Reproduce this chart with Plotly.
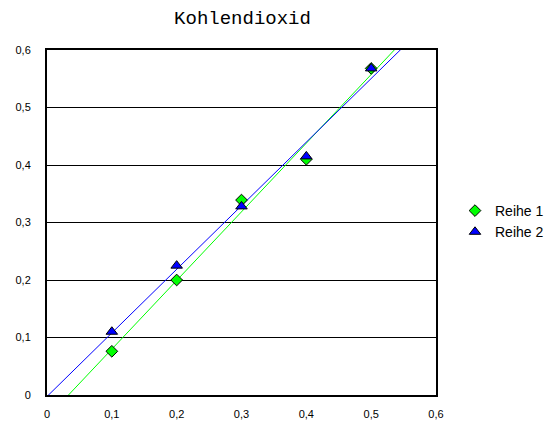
import numpy as np
import plotly.graph_objects as go

x_vals = [0.1, 0.2, 0.3, 0.4, 0.5]
reihe1 = [0.076, 0.200, 0.339, 0.410, 0.568]
reihe2 = [0.110, 0.225, 0.328, 0.415, 0.568]
y_ticks = [0, 0.1, 0.2, 0.3, 0.4, 0.5, 0.6]
x_ticks = [0, 0.1, 0.2, 0.3, 0.4, 0.5, 0.6]

# the page body has an 8px default margin, so the figure is sized to fit it
OFF = 8
W, H = 560 - OFF, 421 - OFF

fig = go.Figure()

line_x = np.array([0.0, 0.6])
for ys, col in [(reihe1, "#00ff00"), (reihe2, "#0000ff")]:
    m, b = np.polyfit(x_vals, ys, 1)
    fig.add_trace(go.Scatter(x=line_x, y=m * line_x + b, mode="lines",
                             line=dict(color=col, width=1), showlegend=False,
                             hoverinfo="skip"))

fig.add_trace(go.Scatter(x=x_vals, y=reihe1, mode="markers", name="Reihe 1",
                         marker=dict(symbol="diamond", size=9, color="#00ff00",
                                     line=dict(color="black", width=1))))
fig.add_trace(go.Scatter(x=x_vals, y=reihe2, mode="markers", name="Reihe 2",
                         marker=dict(symbol="triangle-up", size=10, color="#0000ff",
                                     line=dict(color="black", width=1))))

fig.update_layout(
    width=W, height=H,
    margin=dict(l=47 - OFF, r=124, t=50 - OFF, b=26, autoexpand=False),
    paper_bgcolor="white", plot_bgcolor="white",
    separators=",.",
    title=dict(text="Kohlendioxid", x=(242.5 - OFF) / W, xanchor="center",
               y=1 - (17 - OFF) / H, yanchor="middle",
               font=dict(family="Liberation Mono, Courier New, monospace", size=19, color="black")),
    font=dict(family="Liberation Sans, Arial, sans-serif", size=11, color="black"),
    xaxis=dict(range=[0, 0.6], tickvals=x_ticks, showgrid=False, zeroline=False,
               showline=True, linecolor="black", linewidth=2, mirror=True, ticks="",
               automargin=False, ticklabelstandoff=8),
    yaxis=dict(range=[0, 0.6], tickvals=y_ticks, showgrid=True, gridcolor="black",
               gridwidth=1, zeroline=False, showline=True, linecolor="black",
               linewidth=2, mirror=True, ticks="", ticklabelstandoff=12,
               automargin=False),
    legend=dict(x=(455 - 47) / 389, y=(395 - 221.5) / 345, xanchor="left", yanchor="middle",
                font=dict(size=14, family="Liberation Sans, Arial, sans-serif"),
                tracegroupgap=0),
)

fig.write_html("out.html")
